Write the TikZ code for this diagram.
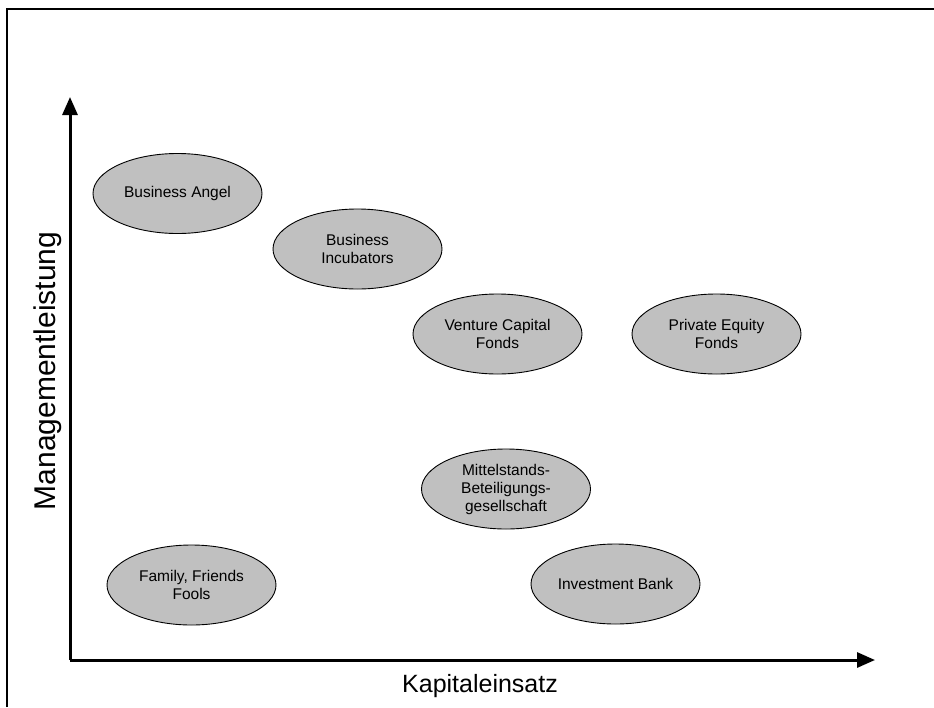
\documentclass[tikz,border=0pt]{standalone}
\usepackage{fontspec}
\setmainfont{Liberation Sans}
\usetikzlibrary{arrows.meta,shapes.geometric}

\begin{document}
\begin{tikzpicture}[x=1pt,y=-1pt,
    geber/.style={ellipse,draw,line width=0.9pt,fill={rgb,255:red,192;green,192;blue,192},
        minimum width=169pt,minimum height=80pt,inner sep=0pt,align=center,
        font=\fontsize{15.5}{18}\selectfont},
    achse/.style={line width=3pt,-{Triangle[length=18pt,width=15pt]}}]
    \useasboundingbox (0,0) rectangle (934,707);
    % Rahmen
    \draw[line width=2pt] (7,707) -- (7,9) -- (934,9);
    % Achsen
    \coordinate (O) at (70,660);
    \coordinate (Y) at (70,97);
    \coordinate (X) at (875,660);
    \draw[achse] (O) -- (Y);
    \draw[achse] (O) -- (X);
    \node[rotate=90,anchor=base,font=\fontsize{30}{36}\selectfont] (ylab) at (55,371) {Managementleistung};
    \node[anchor=base,font=\fontsize{25}{30}\selectfont] (xlab) at (480,692) {Kapitaleinsatz};
    % Kapitalgeber
    \node[geber] (BA) at (177.5,193.5) {Business Angel};
    \node[geber] (BI) at (357.5,249) {Business\\Incubators};
    \node[geber] (VC) at (497.5,334) {Venture Capital\\Fonds};
    \node[geber] (PE) at (716.5,334) {Private Equity\\Fonds};
    \node[geber] (MB) at (506,489) {Mittelstands-\\Beteiligungs-\\gesellschaft};
    \node[geber] (FF) at (191.5,585) {Family, Friends\\Fools};
    \node[geber] (IB) at (615.5,584) {Investment Bank};
\end{tikzpicture}
\end{document}
